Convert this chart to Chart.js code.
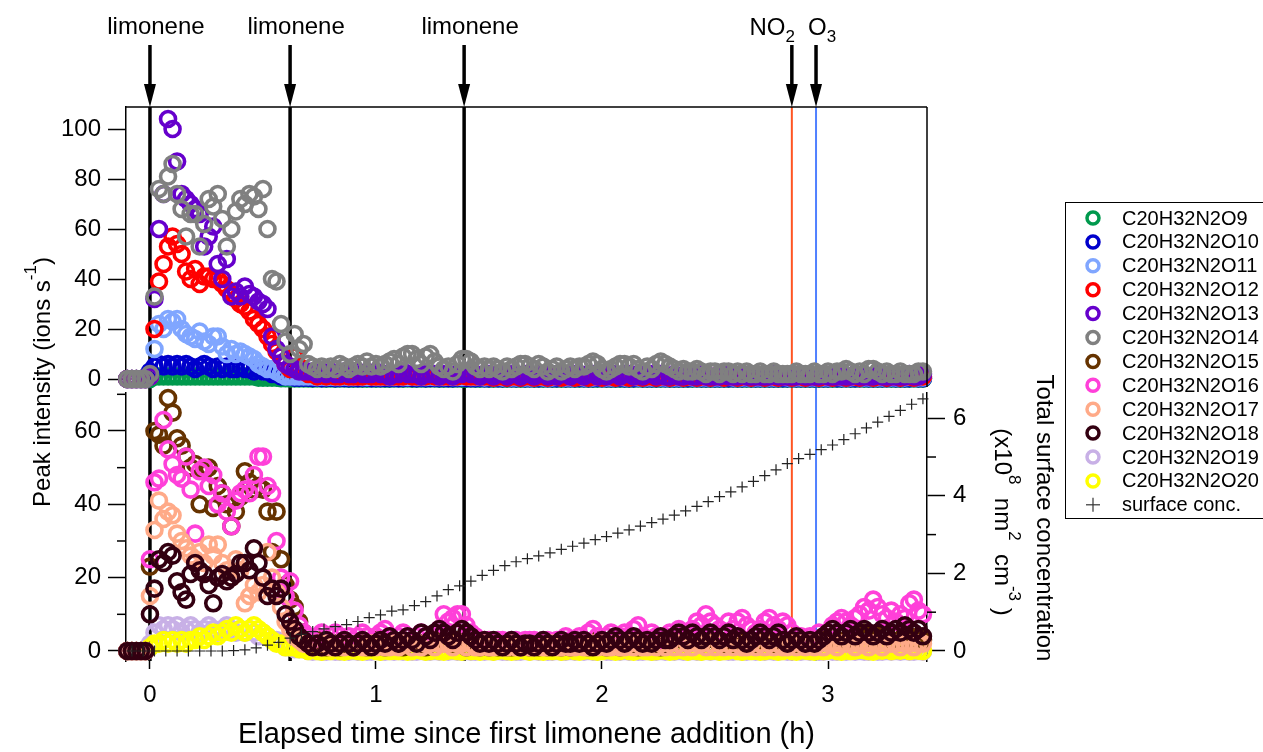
<!DOCTYPE html>
<html>
<head>
<meta charset="utf-8">
<script src="https://cdn.jsdelivr.net/npm/chart.js@4.4.1/dist/chart.umd.min.js"></script>
<style>
  html, body { margin: 0; padding: 0; background: #fff; }
  #wrap { width: 1263px; height: 752px; position: relative; }
</style>
</head>
<body>
<div id="wrap"><canvas id="chart" width="1263" height="752"></canvas></div>
<script>
// Sampling times (h since first limonene addition)
const times = [
  -0.1, -0.08, -0.06, -0.04, -0.02, 0, 0.02, 0.04, 0.06, 0.08,
  0.1, 0.12, 0.14, 0.16, 0.18, 0.2, 0.22, 0.24, 0.26, 0.28,
  0.3, 0.32, 0.34, 0.36, 0.38, 0.4, 0.42, 0.44, 0.46, 0.48,
  0.5, 0.52, 0.54, 0.56, 0.58, 0.6, 0.62, 0.64, 0.66, 0.68,
  0.7, 0.72, 0.74, 0.76, 0.78, 0.8, 0.82, 0.84, 0.86, 0.88,
  0.9, 0.92, 0.94, 0.96, 0.98, 1, 1.02, 1.04, 1.06, 1.08,
  1.1, 1.12, 1.14, 1.16, 1.18, 1.2, 1.22, 1.24, 1.26, 1.28,
  1.3, 1.32, 1.34, 1.36, 1.38, 1.4, 1.42, 1.44, 1.46, 1.48,
  1.5, 1.52, 1.54, 1.56, 1.58, 1.6, 1.62, 1.64, 1.66, 1.68,
  1.7, 1.72, 1.74, 1.76, 1.78, 1.8, 1.82, 1.84, 1.86, 1.88,
  1.9, 1.92, 1.94, 1.96, 1.98, 2, 2.02, 2.04, 2.06, 2.08,
  2.1, 2.12, 2.14, 2.16, 2.18, 2.2, 2.22, 2.24, 2.26, 2.28,
  2.3, 2.32, 2.34, 2.36, 2.38, 2.4, 2.42, 2.44, 2.46, 2.48,
  2.5, 2.52, 2.54, 2.56, 2.58, 2.6, 2.62, 2.64, 2.66, 2.68,
  2.7, 2.72, 2.74, 2.76, 2.78, 2.8, 2.82, 2.84, 2.86, 2.88,
  2.9, 2.92, 2.94, 2.96, 2.98, 3, 3.02, 3.04, 3.06, 3.08,
  3.1, 3.12, 3.14, 3.16, 3.18, 3.2, 3.22, 3.24, 3.26, 3.28,
  3.3, 3.32, 3.34, 3.36, 3.38, 3.4, 3.42
];

// Upper panel series (ions s-1)
const o9 = [
  0,0,0,0,0,0,1,1,1,1,
  1,1,1,1,1,1,1,1,1,1,
  1,1,1,1,1,1,1,1,1,0.5,
  0.5,0.5,0.5,0.5,0.3,0.3,0.2,0.2,0.2,0.2,
  0.2,0.1,0.2,0.2,0.1,0.2,0.1,0.2,0.2,0.1,
  0.1,0.2,0.1,0.1,0.2,0.1,0.2,0.1,0.1,0.2,
  0.2,0.1,0.2,0.1,0.1,0.2,0.1,0.2,0.2,0.1,
  0.1,0.2,0.1,0.2,0.1,0.1,0.2,0.1,0.1,0.2,
  0.1,0.1,0.2,0.1,0.1,0.2,0.1,0.1,0.1,0.2,
  0.1,0.1,0.1,0.2,0.1,0.1,0.1,0.1,0.2,0.1,
  0.1,0.2,0.1,0.1,0.1,0.2,0.1,0.1,0.1,0.1,
  0.1,0.1,0.1,0.2,0.1,0.1,0.1,0.1,0.1,0.2,
  0.1,0.1,0.1,0.1,0.1,0.1,0.2,0.1,0.1,0.1,
  0.1,0.1,0.1,0.1,0.2,0.1,0.1,0.1,0.1,0.1,
  0.1,0.1,0.1,0.1,0.1,0.1,0.1,0.2,0.1,0.1,
  0.1,0.1,0.1,0.1,0.1,0.1,0.1,0.1,0.1,0.2,
  0.1,0.1,0.2,0.1,0.1,0.1,0.1,0.1,0.2,0.1,
  0.1,0.1,0.1,0.1,0.2,0.1,0.1
];
const o10 = [
  0,0,0,0,0,3,5,6,5,6,
  5,6,5,6,5,4,5,6,5,4,
  5,4,5,4,4,5,4,4,3,4,
  3,3,2,2,1,1,1,0.5,0.5,0.5,
  0.5,0.4,0.5,0.3,0.4,0.5,0.3,0.4,0.4,0.3,
  0.4,0.3,0.4,0.5,0.3,0.4,0.3,0.4,0.3,0.4,
  0.3,0.4,0.5,0.4,0.3,0.4,0.3,0.4,0.4,0.3,
  0.4,0.3,0.3,0.4,0.5,0.4,0.3,0.3,0.4,0.3,
  0.3,0.4,0.3,0.3,0.4,0.3,0.3,0.4,0.3,0.3,
  0.3,0.3,0.4,0.3,0.3,0.3,0.4,0.3,0.3,0.3,
  0.4,0.3,0.3,0.3,0.4,0.3,0.3,0.3,0.3,0.4,
  0.3,0.3,0.3,0.4,0.3,0.3,0.3,0.3,0.4,0.3,
  0.3,0.3,0.3,0.3,0.3,0.4,0.3,0.3,0.3,0.3,
  0.3,0.3,0.3,0.3,0.3,0.3,0.3,0.4,0.3,0.3,
  0.3,0.3,0.3,0.3,0.3,0.3,0.3,0.3,0.3,0.3,
  0.3,0.3,0.3,0.3,0.3,0.3,0.4,0.3,0.3,0.3,
  0.3,0.3,0.3,0.4,0.3,0.3,0.3,0.3,0.3,0.4,
  0.3,0.3,0.3,0.3,0.4,0.3,0.3
];
const o11 = [
  0,0,0,0,0,1,12,22,20,24,
  23,24,20,18,17,16,19,15,14,17,
  17,13,10,12,10,11,10,9,8,6,
  5,4,4,3,2,1,1,1,1,1,
  1,1,0.8,1,0.8,1,0.8,0.8,1,0.8,
  0.8,1,0.8,0.8,1,0.8,0.8,1,0.8,0.8,
  1,0.8,0.8,1,0.8,0.8,0.8,1,0.8,0.8,
  0.8,1,0.8,0.8,0.8,1,0.8,0.8,0.8,0.6,
  0.8,0.6,0.8,0.6,0.8,0.6,0.6,0.8,0.6,0.6,
  0.6,0.8,0.6,0.6,0.6,0.8,0.6,0.6,0.6,0.6,
  0.8,0.6,0.6,0.6,0.8,0.6,0.6,0.6,0.6,0.8,
  0.6,0.6,0.8,0.6,0.6,0.6,0.6,0.8,0.6,0.6,
  0.6,0.6,0.6,0.6,0.8,0.6,0.6,0.6,0.6,0.6,
  0.6,0.6,0.6,0.8,0.6,0.6,0.6,0.6,0.6,0.6,
  0.6,0.6,0.6,0.6,0.6,0.8,0.6,0.6,0.6,0.6,
  0.6,0.6,0.6,0.6,0.6,0.6,0.6,0.8,0.6,0.6,
  0.6,0.8,0.6,0.6,0.6,0.6,0.6,0.6,0.8,0.6,
  0.6,0.6,0.6,0.8,0.6,0.6,0.6
];
const o12 = [
  0,0,0,0,0,1,20,39,46,53,
  57,54,50,43,40,44,38,41,41,40,
  40,38,36,34,32,30,29,27,24,22,
  20,17,14,11,9,6,4,9,5,3,
  2,2,1,2,1,2,1,1,2,1,
  1,1,1,2,1,1,1,1,1,1,
  1,1,2,1,1,1,1,2,1,1,
  1,1,1,1,2,1,1,1,1,1,
  1,0.5,1,1,0.5,1,1,0.5,1,1,
  0.5,1,1,0.5,1,1,0.5,1,1,0.5,
  1,1,0.5,1,1,0.5,1,1,0.5,1,
  1,0.5,1,1,0.5,1,1,0.5,1,1,
  0.5,1,1,0.5,1,1,0.5,1,1,0.5,
  1,1,0.5,1,1,0.5,1,1,0.5,1,
  1,0.5,1,1,0.5,1,1,0.5,1,1,
  0.5,1,1,0.5,1,1,0.5,1,1,0.5,
  1,1,0.5,1,1,0.5,1,1,0.5,1,
  1,0.5,1,1,0.5,1,1
];
const o13 = [
  0,0,0,0,0,1,32,60,74,104,
  100,87,74,72,70,68,66,53,57,61,
  46,40,48,33,35,33,37,34,33,31,
  30,28,17,12,9,6,5,4,3,3,
  3,3,2,3,2,3,2,2,3,2,
  2,3,2,2,2,3,2,2,1,2,
  2,3,2,2,2,1,2,2,2,1,
  2,2,1,2,2,3,2,2,1,2,
  2,1,2,2,1,2,2,1,2,2,
  1,2,2,1,2,1,2,2,1,2,
  2,1,2,2,1,2,1,2,2,1,
  2,2,1,2,1,2,2,1,2,1,
  1,2,1,1,2,1,1,2,1,1,
  1,1,2,1,1,1,2,1,1,1,
  1,1,1,2,1,1,1,1,1,2,
  1,1,1,1,2,1,1,1,1,1,
  1,2,1,1,1,1,2,1,1,1,
  1,1,1,2,1,1,2
];
const o14 = [
  0,0,0,0,0,2,33,76,74,81,
  86,74,68,57,66,66,53,62,72,69,
  74,64,53,60,67,72,70,74,73,68,
  76,60,40,39,22,15,10,18,12,14,
  6,5,4,5,4,5,4,6,5,4,
  5,6,5,7,5,6,5,6,7,8,
  6,9,10,10,8,6,9,10,7,5,
  4,5,3,6,8,8,7,5,4,5,
  4,5,4,3,5,4,5,6,6,5,
  4,6,5,3,4,5,3,4,5,4,
  5,5,6,7,6,4,3,4,5,6,
  6,5,6,4,3,5,4,6,7,6,
  5,4,3,4,3,3,4,3,2,3,
  3,2,3,3,2,3,2,3,2,2,
  3,2,2,3,2,2,2,2,3,2,
  2,2,3,2,2,3,2,3,3,4,
  3,2,3,2,4,4,3,2,3,2,
  2,3,2,2,2,3,3
];

// Lower panel series (ions s-1)
const o15 = [
  0,0,0,0,0,23,60,59,56,69,
  65,58,56,53,50,51,40,49,50,39,
  45,43,40,34,38,42,49,46,44,45,
  44,38,27,38,25,18,14,12,8,5,
  3,2,2,3,1,2,2,1,2,2,
  1,2,2,1,2,3,2,1,2,2,
  2,1,2,3,2,2,1,2,3,2,
  3,2,2,3,2,1,2,2,1,2,
  1,2,1,2,1,1,2,1,2,1,
  2,1,2,1,2,2,1,2,1,2,
  2,2,1,2,3,2,1,2,2,1,
  2,3,2,1,2,2,3,2,1,2,
  2,3,2,3,2,3,3,2,3,2,
  3,2,2,3,2,3,2,2,3,2,
  2,3,2,2,3,2,2,3,2,2,
  2,2,3,2,3,3,4,3,4,3,
  4,3,4,5,4,3,4,5,4,3,
  4,3,5,4,3,4,3
];
const o16 = [
  0,0,0,0,0,25,46,47,63,55,
  51,48,47,53,44,32,49,50,45,48,
  40,43,38,34,41,43,44,43,48,53,
  53,45,43,30,20,15,19,11,7,5,
  4,3,4,5,3,4,5,4,3,4,
  3,4,5,4,3,4,5,6,4,3,
  4,5,4,3,4,5,4,3,4,6,
  10,8,9,10,10,7,5,4,3,3,
  3,2,3,3,2,3,3,2,3,3,
  3,2,3,3,2,3,3,4,3,3,
  4,3,5,6,4,3,4,5,3,4,
  5,4,6,7,4,3,5,4,3,4,
  5,4,6,5,4,6,8,7,10,8,
  7,6,5,8,6,8,9,7,6,5,
  6,8,9,7,6,8,7,5,4,4,
  3,4,3,5,4,5,7,8,9,8,
  7,9,10,12,11,14,12,10,9,11,
  8,10,9,13,14,11,10
];
const o17 = [
  0,0,0,0,0,15,33,41,36,38,
  37,32,30,28,26,25,27,24,29,26,
  29,24,22,20,25,22,13,15,18,16,
  18,27,20,16,12,8,6,4,3,2,
  2,1,2,1,2,1,1,2,1,2,
  1,2,1,1,2,1,2,1,1,2,
  1,2,2,1,2,1,2,2,1,2,
  2,2,1,2,2,1,2,1,1,2,
  1,1,2,1,1,2,1,1,2,1,
  1,2,1,1,2,1,1,2,1,1,
  2,1,1,2,1,2,1,1,2,1,
  1,2,1,2,1,1,2,1,2,1,
  2,1,2,1,2,1,2,2,1,2,
  1,2,1,2,1,2,1,1,2,1,
  2,1,2,1,2,1,1,2,1,2,
  1,2,1,2,1,2,2,1,2,2,
  2,1,2,2,1,2,2,1,2,2,
  2,1,2,2,1,2,2
];
const o18 = [
  0,0,0,0,0,10,17,25,24,27,
  26,19,16,14,21,24,22,21,18,13,
  20,21,19,20,21,24,24,22,28,24,
  20,15,17,15,17,10,8,6,4,3,
  2,1,2,1,3,2,1,2,3,2,
  1,2,3,2,1,2,3,2,4,3,
  2,3,4,3,2,5,4,3,5,6,
  5,4,3,5,6,5,4,3,2,3,
  2,3,2,1,2,3,2,1,2,2,
  1,2,3,2,1,2,3,2,2,3,
  2,3,2,1,2,3,2,3,4,3,
  2,3,4,3,2,3,2,3,4,3,
  3,4,5,4,3,5,4,3,4,5,
  4,3,4,5,3,4,3,2,3,4,
  5,4,3,4,5,3,2,3,4,3,
  2,3,2,3,4,5,6,5,4,5,
  6,4,5,6,5,4,5,6,4,5,
  6,5,7,6,5,6,4
];
const o19 = [
  0,0,0,0,0,2,5,7,6,7,
  6,7,5,6,7,6,5,6,7,6,
  5,6,7,6,5,6,5,6,5,4,
  5,4,3,3,2,1,1,0.5,0.5,0.5,
  0,-0.2,0,-0.2,-0.2,0,-0.2,-0.2,0,-0.2,
  0,-0.2,0,-0.2,-0.2,0,-0.2,-0.2,0,-0.2,
  0,-0.2,0,-0.2,-0.2,0,-0.2,-0.2,0,-0.2,
  0,-0.2,0,-0.2,-0.2,0,-0.2,-0.2,0,-0.2,
  0,-0.2,0,-0.2,-0.2,0,-0.2,-0.2,0,-0.2,
  0,-0.2,0,-0.2,-0.2,0,-0.2,-0.2,0,-0.2,
  0,-0.2,0,-0.2,-0.2,0,-0.2,-0.2,0,-0.2,
  0,-0.2,0,-0.2,-0.2,0,-0.2,-0.2,0,-0.2,
  0,-0.2,0,-0.2,-0.2,0,-0.2,-0.2,0,-0.2,
  0,-0.2,0,-0.2,-0.2,0,-0.2,-0.2,0,-0.2,
  0,-0.2,0,-0.2,-0.2,0,-0.2,-0.2,0,-0.2,
  0,-0.2,0,-0.2,-0.2,0,-0.2,-0.2,0,-0.2,
  0,-0.2,0,-0.2,-0.2,0,-0.2,-0.2,0,-0.2,
  0,-0.2,0,-0.2,-0.2,0,-0.2
];
const o20 = [
  0,0,0,0,0,1,2,2,3,2,
  3,2,3,2,3,3,4,3,4,5,
  4,5,6,5,7,6,5,6,7,6,
  5,4,3,2,2,1,1,1,0.5,0.5,
  0,0.4,0,-0.2,0.2,0,0.4,0,-0.2,0.1,
  0.2,0,-0.2,0.1,0.4,0,-0.2,0.2,0,0.1,
  0,0.2,-0.2,0,0.4,0.1,-0.2,0,0.2,0,
  -0.2,0.1,0.2,0,-0.2,0.4,0,0.1,-0.2,0.2,
  0,-0.2,0.1,0.2,0,-0.2,0,0.4,0.1,-0.2,
  0.2,0,-0.2,0.1,0,0.2,-0.2,0,0.4,0,
  -0.2,0.1,0.2,0,-0.2,0,0.2,0.1,-0.2,0,
  0.4,0,-0.2,0.2,0.1,0,-0.2,0,0.2,0.1,
  -0.2,0,0.4,0.1,-0.2,0.2,0,-0.2,0.1,0,
  0.2,-0.2,0,0.1,0.4,0,-0.2,0.2,0,0.1,
  -0.2,0,0.2,0.1,-0.2,0,0.4,0,-0.2,0.2,
  0.1,0,-0.2,0.2,0,0.1,0.4,0,-0.2,0.2,
  0,0.1,0.4,0.2,0,-0.2,0.2,0.1,0.4,0,
  0.2,0.1,0.4,0,0.2,0.1,0
];

// Total surface concentration (x10^8 nm2 cm-3), right axis
const surfTimes = [
  -0.08, -0.03, 0.02, 0.07, 0.12, 0.17, 0.22, 0.27, 0.32, 0.37,
  0.42, 0.47, 0.52, 0.57, 0.62, 0.67, 0.72, 0.77, 0.82, 0.87,
  0.92, 0.97, 1.02, 1.07, 1.12, 1.17, 1.22, 1.27, 1.32, 1.37,
  1.42, 1.47, 1.52, 1.57, 1.62, 1.67, 1.72, 1.77, 1.82, 1.87,
  1.92, 1.97, 2.02, 2.07, 2.12, 2.17, 2.22, 2.27, 2.32, 2.37,
  2.42, 2.47, 2.52, 2.57, 2.62, 2.67, 2.72, 2.77, 2.82, 2.87,
  2.92, 2.97, 3.02, 3.07, 3.12, 3.17, 3.22, 3.27, 3.32, 3.37,
  3.42
];
const surfConc = [
  0, 0, 0, 0, 0, 0, 0, 0, 0, 0.01,
  0.03, 0.08, 0.15, 0.22, 0.33, 0.43, 0.5, 0.57, 0.63, 0.68,
  0.76, 0.86, 0.93, 1.03, 1.06, 1.17, 1.27, 1.42, 1.58, 1.68,
  1.8, 1.95, 2.08, 2.2, 2.3, 2.38, 2.45, 2.53, 2.62, 2.7,
  2.78, 2.87, 2.95, 3.04, 3.12, 3.22, 3.31, 3.4, 3.5, 3.61,
  3.73, 3.85, 3.98, 4.1, 4.23, 4.37, 4.52, 4.67, 4.83, 4.96,
  5.07, 5.19, 5.31, 5.45, 5.6, 5.75, 5.9, 6.05, 6.2, 6.36,
  6.5
];

const seriesNames = [
  'C20H32N2O9', 'C20H32N2O10', 'C20H32N2O11', 'C20H32N2O12', 'C20H32N2O13', 'C20H32N2O14',
  'C20H32N2O15', 'C20H32N2O16', 'C20H32N2O17', 'C20H32N2O18', 'C20H32N2O19', 'C20H32N2O20'
];
const seriesValues = [o9, o10, o11, o12, o13, o14, o15, o16, o17, o18, o19, o20];
const seriesColors = [
  '#00994D', '#0000CC', '#80A6FF', '#FF0000', '#6600CC', '#808080',
  '#663300', '#FF40D9', '#FFAA88', '#330011', '#C8B0E6', '#FFFF00'
];

// Event markers (h)
const limoneneTimes = [0, 0.62, 1.39];
const no2Time = 2.84;
const o3Time = 2.947;

const FONT = '"Liberation Sans", Arial, Helvetica, sans-serif';
Chart.defaults.font.family = FONT;
Chart.defaults.font.size = 24;
Chart.defaults.color = '#000';

// draw text with sup/sub parts, baseline at y
function drawRich(ctx, parts, x, y, size, align) {
  const small = Math.round(size * 0.7);
  let total = 0;
  const items = parts.map(p => {
    const fs = p.s ? small : size;
    ctx.font = fs + 'px ' + FONT;
    const w = ctx.measureText(p.t).width;
    total += w;
    let dy = 0;
    if (p.s === 'sup') dy = -size * 0.6;
    if (p.s === 'sub') dy = size * 0.3;
    return { t: p.t, fs, w, dy };
  });
  let cx = x;
  if (align === 'center') cx = x - total / 2;
  if (align === 'right') cx = x - total;
  ctx.textAlign = 'left';
  ctx.textBaseline = 'alphabetic';
  items.forEach(it => {
    ctx.font = it.fs + 'px ' + FONT;
    ctx.fillText(it.t, cx, y + it.dy);
    cx += it.w;
  });
}

function line(ctx, x1, y1, x2, y2) {
  ctx.beginPath();
  ctx.moveTo(x1, y1);
  ctx.lineTo(x2, y2);
  ctx.stroke();
}

const plotDecor = {
  id: 'plotDecor',
  beforeDatasetsDraw(chart) {
    const { ctx, chartArea: a, scales } = chart;
    ctx.save();
    ctx.strokeStyle = '#000';
    ctx.lineWidth = 3.5;
    limoneneTimes.forEach(t => {
      const px = scales.x.getPixelForValue(t);
      line(ctx, px, a.top, px, a.bottom);
    });
    ctx.lineWidth = 2;
    ctx.strokeStyle = '#FF5522';
    let px = scales.x.getPixelForValue(no2Time);
    line(ctx, px, a.top, px, a.bottom);
    ctx.strokeStyle = '#5080FF';
    px = scales.x.getPixelForValue(o3Time);
    line(ctx, px, a.top, px, a.bottom);
    ctx.restore();
  },
  afterDraw(chart) {
    const { ctx, chartArea: a, scales } = chart;
    ctx.save();
    ctx.fillStyle = '#000';
    ctx.strokeStyle = '#000';

    // frame of upper panel
    ctx.lineWidth = 1.5;
    line(ctx, a.left, a.top, a.right, a.top);
    line(ctx, a.right, a.top, a.right, scales.yTop.bottom);

    // minor ticks
    scales.yBot.ticks.forEach(tk => {
      if (Math.round(tk.value) % 20 !== 0) {
        const py = scales.yBot.getPixelForValue(tk.value);
        line(ctx, a.left - 9, py, a.left, py);
      }
    });
    scales.yR.ticks.forEach(tk => {
      if (Math.round(tk.value) % 2 !== 0) {
        const py = scales.yR.getPixelForValue(tk.value);
        line(ctx, a.right, py, a.right + 9, py);
      }
    });

    // arrows and labels above the plot
    const arrow = (t) => {
      const px = scales.x.getPixelForValue(t);
      ctx.lineWidth = 3.5;
      line(ctx, px, 45, px, 88);
      ctx.beginPath();
      ctx.moveTo(px - 6, 84);
      ctx.lineTo(px + 6, 84);
      ctx.lineTo(px, a.top);
      ctx.closePath();
      ctx.fill();
      return px;
    };
    limoneneTimes.forEach(t => {
      const px = arrow(t);
      drawRich(ctx, [{ t: 'limonene' }], px + 6, 34, 24, 'center');
    });
    let px = arrow(no2Time);
    drawRich(ctx, [{ t: 'NO' }, { t: '2', s: 'sub' }], px + 3, 35, 24, 'right');
    px = arrow(o3Time);
    drawRich(ctx, [{ t: 'O' }, { t: '3', s: 'sub' }], px - 8, 35, 24, 'left');

    // left axis title
    ctx.save();
    ctx.translate(50, 382);
    ctx.rotate(-Math.PI / 2);
    drawRich(ctx, [{ t: 'Peak intensity (ions s' }, { t: '-1', s: 'sup' }, { t: ')' }], 0, 0, 24, 'center');
    ctx.restore();

    // right axis title (two lines)
    ctx.save();
    ctx.translate(1037, 518);
    ctx.rotate(Math.PI / 2);
    drawRich(ctx, [{ t: 'Total surface concentration' }], 0, 0, 24, 'center');
    ctx.restore();
    ctx.save();
    ctx.translate(995, 522);
    ctx.rotate(Math.PI / 2);
    drawRich(ctx, [{ t: '(x10' }, { t: '8', s: 'sup' }, { t: '  nm' }, { t: '2', s: 'sup' },
                   { t: '  cm' }, { t: '-3', s: 'sup' }, { t: ' )' }], 0, 0, 24, 'center');
    ctx.restore();

    // legend
    const lx = 1065, ly = 202, rowH = 23.9;
    ctx.lineWidth = 1;
    ctx.strokeRect(lx + 0.5, ly + 0.5, 400, 316);
    ctx.font = '20px ' + FONT;
    ctx.textAlign = 'left';
    ctx.textBaseline = 'middle';
    seriesNames.forEach((name, k) => {
      const cy = ly + 16 + k * rowH;
      ctx.strokeStyle = seriesColors[k];
      ctx.lineWidth = 3.5;
      ctx.beginPath();
      ctx.arc(lx + 28, cy, 6, 0, Math.PI * 2);
      ctx.stroke();
      ctx.fillStyle = '#000';
      ctx.fillText(name, lx + 57, cy + 1);
    });
    const cy = ly + 16 + seriesNames.length * rowH;
    ctx.strokeStyle = '#333';
    ctx.lineWidth = 1.2;
    line(ctx, lx + 21, cy, lx + 35, cy);
    line(ctx, lx + 28, cy - 7, lx + 28, cy + 7);
    ctx.fillText('surface conc.', lx + 57, cy + 1);

    ctx.restore();
  }
};

// draw order (0 = bottom); lower panel: O19, O20 under the others
const drawRank = [0, 1, 2, 3, 4, 5, 8, 9, 10, 11, 6, 7];

const datasets = seriesValues.map((vals, k) => ({
  label: seriesNames[k],
  data: times.map((t, i) => ({ x: t, y: vals[i] })),
  yAxisID: k < 6 ? 'yTop' : 'yBot',
  showLine: false,
  pointStyle: 'circle',
  pointRadius: 7.5,
  pointBorderWidth: 3.6,
  borderColor: seriesColors[k],
  backgroundColor: 'rgba(0,0,0,0)',
  clip: false,
  order: 20 - drawRank[k]
}));
datasets.push({
  label: 'surface conc.',
  data: surfTimes.map((t, i) => ({ x: t, y: surfConc[i] })),
  yAxisID: 'yR',
  showLine: false,
  pointStyle: 'cross',
  pointRadius: 5.5,
  pointBorderWidth: 1.2,
  borderColor: '#222',
  backgroundColor: '#222',
  clip: false,
  order: 1
});

const tickGrid = (len) => ({
  drawOnChartArea: false,
  drawTicks: true,
  tickLength: len,
  tickWidth: 1.5,
  tickColor: '#000'
});

const ctx = document.getElementById('chart').getContext('2d');
const chart = new Chart(ctx, {
  type: 'scatter',
  data: { datasets },
  options: {
    responsive: false,
    animation: false,
    devicePixelRatio: 1,
    events: [],
    layout: { padding: { top: 107, left: 0, right: 0, bottom: 0 } },
    plugins: { legend: { display: false }, tooltip: { enabled: false } },
    scales: {
      x: {
        type: 'linear', position: 'bottom', min: -0.106, max: 3.438,
        border: { display: false },
        grid: tickGrid(8),
        ticks: { stepSize: 1, includeBounds: false, padding: 12, maxRotation: 0, font: { size: 24 } },
        title: { display: true, text: 'Elapsed time since first limonene addition (h)',
                 font: { size: 29 }, padding: { top: 0, bottom: 0 } },
        afterFit: s => { s.height = 91; }
      },
      yBot: {
        type: 'linear', position: 'left', stack: 'left', stackWeight: 268, weight: 1,
        min: -2.73, max: 70.36,
        border: { color: '#000', width: 1.5 },
        grid: Object.assign(tickGrid(18), {
          tickColor: c => (Math.round(c.tick.value) % 20 === 0 ? '#000' : 'rgba(0,0,0,0)')
        }),
        ticks: { stepSize: 10, includeBounds: false, autoSkip: false, padding: 7,
                 callback: v => (Math.round(v) % 20 === 0 ? v : '') },
        afterFit: s => { s.width = 126; }
      },
      yGapL: {
        type: 'linear', position: 'left', stack: 'left', stackWeight: 6, weight: 2,
        min: 0, max: 1, display: false
      },
      yTop: {
        type: 'linear', position: 'left', stack: 'left', stackWeight: 280, weight: 3,
        min: -3.2, max: 108.8,
        border: { color: '#000', width: 1.5 },
        grid: tickGrid(18),
        ticks: { stepSize: 20, includeBounds: false, autoSkip: false, padding: 7 },
        afterFit: s => { s.width = 126; }
      },
      yRTop: {
        type: 'linear', position: 'right', stack: 'right', stackWeight: 280, weight: 1,
        min: 0, max: 1, display: false
      },
      yRGap: {
        type: 'linear', position: 'right', stack: 'right', stackWeight: 6, weight: 2,
        min: 0, max: 1, display: false
      },
      yR: {
        type: 'linear', position: 'right', stack: 'right', stackWeight: 268, weight: 3,
        min: -0.258, max: 6.65,
        border: { color: '#000', width: 1.5 },
        grid: Object.assign(tickGrid(18), {
          tickColor: c => (Math.round(c.tick.value) % 2 === 0 ? '#000' : 'rgba(0,0,0,0)')
        }),
        ticks: { stepSize: 1, includeBounds: false, autoSkip: false, padding: 8,
                 callback: v => (Math.round(v) % 2 === 0 ? v : '') },
        afterFit: s => { s.width = 336; }
      }
    }
  },
  plugins: [plotDecor]
});
</script>
</body>
</html>
